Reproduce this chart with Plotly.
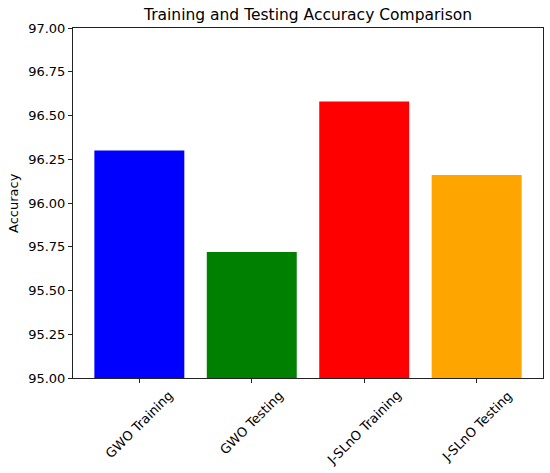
import plotly.graph_objects as go

categories = ["GWO Training", "GWO Testing", "J-SLnO Training", "J-SLnO Testing"]
accuracy = [96.30, 95.72, 96.58, 96.16]
colors = ["blue", "green", "red", "orange"]
y_ticks = [95.00, 95.25, 95.50, 95.75, 96.00, 96.25, 96.50, 96.75, 97.00]

font = "DejaVu Sans, sans-serif"
fig = go.Figure(go.Bar(x=list(range(len(categories))), y=accuracy,
                       marker=dict(color=colors, line=dict(width=0)), width=0.8))

for i, c in enumerate(categories):
    fig.add_annotation(x=i, y=0, xref="x", yref="paper", text=c, showarrow=False,
                       textangle=-45, xanchor="center", yanchor="top", yshift=-7,
                       font=dict(family=font, size=13, color="black"))

# y-axis title
fig.add_annotation(x=0, y=0.5, xref="paper", yref="paper", text="Accuracy", showarrow=False,
                   textangle=-90, xanchor="center", yanchor="middle", xshift=-60,
                   font=dict(family=font, size=13, color="black"))

fig.update_layout(
    template="none",
    width=550, height=473,
    margin=dict(l=73, r=7, t=28, b=95, pad=0),
    plot_bgcolor="white", paper_bgcolor="white",
    title=dict(text="Training and Testing Accuracy Comparison", xref="paper", x=0.5, xanchor="center",
               yref="container", y=0.970, yanchor="middle", automargin=False,
               font=dict(family=font, size=15.5, color="black")),
    xaxis=dict(range=[-0.59, 3.59], tickvals=list(range(len(categories))), ticktext=[""] * 4,
               showline=True, linecolor="#222", linewidth=1, mirror=True, automargin=False,
               ticks="outside", ticklen=4, tickcolor="#222", showgrid=False, zeroline=False),
    yaxis=dict(range=[95, 97], tickvals=y_ticks, ticktext=[f"{v:.2f}" for v in y_ticks],
               showline=True, linecolor="#222", linewidth=1, mirror=True, automargin=False,
               ticks="outside", ticklen=4, tickcolor="#222", showgrid=False, zeroline=False,
               tickfont=dict(family=font, size=13, color="black")),
    showlegend=False,
)
fig.write_html("out.html", config={"displayModeBar": False},
               post_script="document.body.style.margin='0';")
